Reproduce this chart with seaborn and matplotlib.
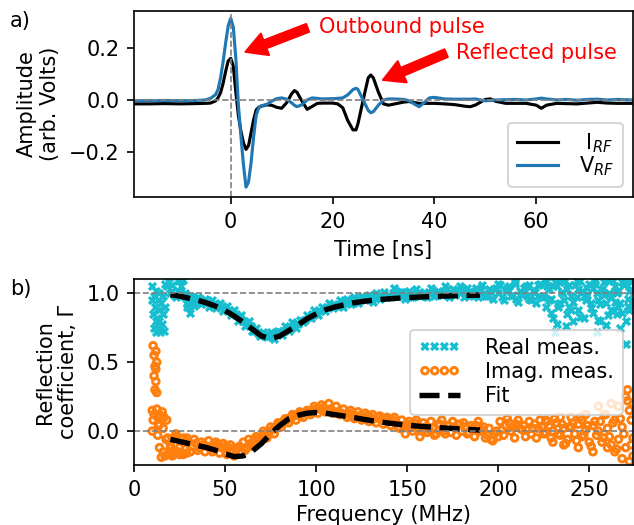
import numpy as np
import matplotlib
matplotlib.use("Agg")
import matplotlib.pyplot as plt
import seaborn as sns

# ---------------- data: panel a (time domain) ----------------
time_ns = [-19, -16, -13, -10, -7, -5, -4, -3, -2.5, -2, -1.5, -1, -0.5, 0, 0.5, 1,
           1.5, 2, 2.5, 3, 3.5, 4, 4.5, 5, 5.5, 6, 7, 8, 9, 10, 11, 12, 12.5, 13, 14,
           15, 16, 17, 18, 20, 21, 22, 23, 24, 24.6, 25, 26, 27, 27.5, 28, 29, 30, 31,
           32, 34, 35, 36, 37, 38, 39, 40, 42, 44, 46, 47, 48, 50, 51, 52, 54, 56, 58,
           60, 61, 62, 64, 66, 68, 70, 72, 74, 76, 79]
i_rf = [-0.015, -0.015, -0.014, -0.015, -0.014, -0.013, -0.012, -0.004, 0.008, 0.028,
        0.064, 0.11, 0.15, 0.16, 0.13, 0.03, -0.06, -0.12, -0.165, -0.19, -0.175,
        -0.125, -0.075, -0.038, -0.028, -0.024, -0.019, -0.02, -0.028, -0.032, -0.01,
        0.025, 0.036, 0.03, -0.005, -0.036, -0.025, -0.013, -0.012, -0.012, -0.015,
        -0.03, -0.08, -0.115, -0.115, -0.09, 0.0, 0.085, 0.096, 0.085, 0.03, -0.015,
        -0.02, -0.016, -0.008, -0.006, -0.01, -0.013, -0.013, -0.013, -0.013, -0.015,
        -0.018, -0.024, -0.026, -0.02, 0.002, 0.004, -0.005, -0.013, -0.013, -0.013,
        -0.02, -0.032, -0.02, -0.013, -0.014, -0.015, -0.012, -0.009, -0.012, -0.013,
        -0.013]
v_rf = [-0.003, -0.003, -0.002, -0.003, -0.002, 0.0, 0.006, 0.02, 0.04, 0.085,
        0.147, 0.22, 0.285, 0.314, 0.28, 0.16, -0.02, -0.14, -0.25, -0.335, -0.315,
        -0.24, -0.14, -0.058, -0.03, -0.022, -0.018, -0.005, 0.005, 0.008, 0.003,
        -0.012, -0.02, -0.026, -0.018, 0.0, 0.008, 0.006, 0.004, 0.005, 0.006, 0.008,
        0.02, 0.04, 0.045, 0.04, 0.0, -0.04, -0.049, -0.045, -0.02, 0.0, 0.004, 0.004,
        0.002, -0.003, -0.015, -0.026, -0.01, 0.008, 0.01, 0.004, 0.003, 0.003, 0.003,
        0.004, -0.003, -0.002, 0.0, 0.001, 0.002, 0.0, 0.004, 0.007, 0.004, 0.0, 0.002,
        -0.001, 0.002, 0.003, 0.0, 0.002, 0.0]

# ---------------- data: panel b (frequency domain) ----------------
freq_even = list(range(10, 276, 2))
real_even = [0.95, 0.80, 0.75, 0.85, 1.05, 1.00, 0.99, 1.02, 1.05, 0.97,
             0.94, 0.97, 0.96, 0.95, 0.94, 0.93, 0.93, 0.92, 0.91, 0.90,
             0.89, 0.88, 0.86, 0.85, 0.82, 0.80, 0.78, 0.76, 0.73, 0.71,
             0.70, 0.70, 0.69, 0.70, 0.71, 0.72, 0.73, 0.74, 0.75, 0.77,
             0.78, 0.80, 0.81, 0.83, 0.85, 0.86, 0.87, 0.89, 0.90, 0.91,
             0.91, 0.92, 0.93, 0.94, 0.93, 0.95, 0.95, 0.96, 0.97, 0.96,
             0.96, 0.97, 0.98, 0.97, 0.98, 0.99, 1.00, 1.02, 1.01, 0.99,
             0.98, 0.97, 0.98, 1.00, 0.99, 0.98, 1.00, 1.02, 0.99, 1.00,
             1.01, 1.03, 1.00, 0.99, 1.02, 1.03, 1.00, 0.98, 1.01, 1.04,
             1.02, 1.00, 0.98, 1.01, 1.03, 1.00, 0.97, 1.02, 1.05, 0.99,
             0.96, 1.02, 1.04, 0.98, 0.95, 1.01, 1.06, 0.97, 0.90, 1.03,
             0.82, 1.05, 0.93, 1.08, 0.85, 0.98, 1.06, 0.88, 1.02, 0.95,
             1.07, 0.86, 1.00, 0.92, 1.08, 0.84, 0.97, 1.05, 0.90, 1.08,
             0.80, 1.02, 0.95]
imag_even = [0.15, 0.45, 0.05, -0.15, 0.08, -0.10, -0.05, -0.15, -0.06, -0.13,
             -0.08, -0.11, -0.09, -0.12, -0.10, -0.11, -0.13, -0.09, -0.10, -0.12,
             -0.11, -0.12, -0.14, -0.13, -0.11, -0.08, -0.12, -0.09, -0.07, -0.05,
             -0.04, -0.02, -0.01, 0.01, 0.02, 0.05, 0.07, 0.08, 0.10, 0.11,
             0.12, 0.12, 0.13, 0.14, 0.15, 0.16, 0.16, 0.17, 0.15, 0.16,
             0.14, 0.14, 0.13, 0.12, 0.13, 0.12, 0.11, 0.11, 0.10, 0.11,
             0.10, 0.09, 0.10, 0.08, 0.09, 0.07, 0.08, 0.06, 0.02, 0.04,
             0.05, 0.03, 0.06, 0.02, 0.00, 0.03, 0.01, 0.02, -0.02, 0.05,
             0.00, 0.04, -0.01, 0.03, 0.05, 0.00, 0.03, -0.01, 0.02, 0.04,
             0.00, 0.03, -0.03, -0.06, -0.02, -0.04, 0.01, 0.04, 0.06, 0.03,
             0.05, 0.02, 0.04, 0.01, -0.02, 0.05, 0.02, 0.03, -0.01, 0.04,
             0.00, 0.06, -0.03, 0.02, -0.06, 0.03, -0.02, 0.05, -0.04, 0.01,
             -0.08, 0.04, -0.03, 0.07, -0.05, 0.02, -0.10, 0.08, -0.06, 0.03,
             -0.12, 0.15, -0.05]

freq_odd = list(range(21, 274, 2))
real_odd = [1.02, 0.97, 1.00, 0.99, 0.92, 0.98, 0.91, 0.97, 0.92, 0.96,
            0.90, 0.95, 0.89, 0.93, 0.87, 0.91, 0.84, 0.88, 0.80, 0.84,
            0.76, 0.80, 0.73, 0.75, 0.69, 0.72, 0.68, 0.72, 0.67, 0.73,
            0.70, 0.76, 0.73, 0.79, 0.75, 0.81, 0.79, 0.84, 0.82, 0.88,
            0.84, 0.90, 0.87, 0.93, 0.89, 0.91, 0.95, 0.90, 0.96, 0.92,
            0.97, 0.93, 0.98, 0.95, 0.99, 0.94, 1.00, 0.96, 1.01, 0.97,
            0.97, 1.04, 0.98, 1.01, 0.96, 1.02, 0.97, 1.03, 0.98, 1.01,
            0.97, 1.04, 0.98, 1.02, 0.99, 1.05, 0.97, 1.03, 1.00, 1.05,
            0.97, 1.04, 0.99, 1.02, 0.97, 1.06, 0.98, 1.03, 0.96, 1.04,
            1.06, 0.95, 1.03, 0.98, 1.07, 0.94, 1.00, 1.05, 0.96, 1.02,
            0.93, 1.07, 0.97,
            1.05, 0.86, 1.08, 0.92, 1.00, 0.76, 1.06, 0.94, 1.09, 0.83,
            0.98, 1.04, 0.89, 1.07, 0.81, 1.02, 0.93, 1.09, 0.87, 1.00,
            0.75, 1.06, 0.91, 1.03]
imag_odd = [-0.16, -0.04, -0.12, -0.17, -0.05, -0.15, -0.06, -0.14, -0.08, -0.15,
            -0.07, -0.15, -0.08, -0.16, -0.09, -0.17, -0.10, -0.18, -0.12, -0.16,
            -0.14, -0.06, -0.11, -0.04, -0.08, 0.00, -0.05, 0.03, -0.02, 0.06,
            0.03, 0.09, 0.06, 0.12, 0.08, 0.14, 0.10, 0.15, 0.12, 0.18,
            0.13, 0.19, 0.14, 0.20, 0.13, 0.18, 0.12, 0.16, 0.10, 0.15,
            0.09, 0.14, 0.08, 0.13, 0.07, 0.12, 0.06, 0.11, 0.05, 0.10,
            0.04, 0.10, 0.03, 0.08, -0.02, 0.07, 0.00, 0.08, -0.04, 0.06,
            -0.01, 0.07, -0.03, 0.05, 0.08, -0.02, 0.04, 0.07, -0.03, 0.05,
            0.06, -0.02, 0.04, -0.04, 0.07, 0.01, -0.05, 0.02, -0.07, 0.00,
            0.07, -0.03, 0.09, 0.00, -0.05, 0.08, 0.01, -0.04, 0.07, 0.02,
            -0.05, 0.08, -0.02,
            0.07, -0.05, 0.09, -0.02, 0.05, -0.09, 0.03, 0.06, -0.07, 0.10,
            -0.03, 0.04, -0.11, 0.07, 0.00, -0.08, 0.12, -0.04, 0.06, -0.13,
            0.09, -0.02, 0.22, -0.10]

# scattered (noisy) extra measurement points at low and high frequency
real_extra_f = [10, 10.5, 11, 11, 11.5, 12, 12, 12.5, 13, 13, 13.5, 14, 14, 14.5, 15,
                15.5, 16, 16.5, 17, 17, 19, 21, 24, 27, 28, 29, 31, 33,
                226, 228, 230, 231, 232, 233, 234, 236, 238, 240, 241, 243, 245, 247,
                249, 251, 253, 254, 255, 256, 257, 259, 261, 262, 263, 265, 266, 267,
                268, 269, 270, 271, 272, 273, 274,
                200, 205, 209, 213, 217, 222, 229, 235, 239, 244, 248, 252, 258, 264]
real_extra_v = [1.05, 0.85, 0.75, 0.98, 0.90, 1.02, 0.72, 0.82, 0.95, 0.74, 0.88, 1.00,
                0.80, 0.72, 0.93, 0.78, 0.98, 0.73, 0.90, 1.07, 1.08, 1.06, 1.09, 1.10,
                1.00, 0.90, 0.86, 0.93,
                1.08, 0.95, 1.05, 0.72, 0.78, 0.90, 1.08, 0.95, 1.03, 0.88, 0.80, 0.97,
                1.09, 0.82, 0.99, 0.93, 1.09, 0.72, 0.95, 0.80, 1.03, 0.77, 1.00, 0.88,
                1.09, 0.85, 1.02, 0.93, 0.86, 1.07, 0.63, 0.96, 0.88, 1.08, 0.92,
                1.07, 1.04, 1.08, 0.99, 1.06, 0.98, 0.96, 1.01, 0.90, 1.03, 0.97, 1.04,
                0.99, 0.94]
imag_extra_f = [10, 10.5, 10.5, 11, 11, 11, 11.5, 11.5, 12, 12, 12.5, 12.5, 12.5, 13, 13,
                13.5, 14, 14, 15, 15.5, 16, 16.5, 17, 17.5, 18.5, 19, 20, 21, 23, 25,
                27, 29,
                226, 230, 234, 236, 240, 244, 246, 248, 252, 255, 258, 260, 262, 264,
                266, 268, 270, 271, 272, 273, 274, 274]
imag_extra_v = [0.00, 0.62, 0.08, 0.55, 0.40, 0.12, 0.30, 0.47, 0.58, 0.36, 0.50, 0.28,
                0.16, 0.10, -0.03, 0.04, 0.12, -0.12, -0.19, 0.14, 0.02, 0.10, -0.18,
                -0.06, -0.05, -0.17, -0.12, -0.18, -0.02, -0.17, -0.05, -0.16,
                0.08, -0.08, 0.10, -0.10, 0.10, -0.12, 0.08, 0.12, -0.15, 0.18, 0.12,
                -0.12, 0.20, -0.15, 0.18, -0.20, 0.25, 0.30, -0.22, 0.08, 0.20, -0.18]

fit_freq = list(range(20, 191, 5))
fit_real = [0.99, 0.98, 0.965, 0.95, 0.93, 0.905, 0.875, 0.835, 0.79, 0.74, 0.69, 0.67,
            0.69, 0.73, 0.77, 0.815, 0.85, 0.88, 0.90, 0.915, 0.93, 0.94, 0.948, 0.955,
            0.96, 0.965, 0.969, 0.972, 0.975, 0.978, 0.98, 0.982, 0.984, 0.986, 0.987]
fit_imag = [-0.06, -0.075, -0.09, -0.105, -0.12, -0.14, -0.165, -0.185, -0.18, -0.145,
            -0.09, -0.02, 0.04, 0.09, 0.115, 0.13, 0.135, 0.13, 0.12, 0.11, 0.10, 0.088,
            0.077, 0.067, 0.058, 0.05, 0.043, 0.037, 0.032, 0.028, 0.023, 0.019, 0.015,
            0.011, 0.008]

assert len(time_ns) == len(i_rf) == len(v_rf)
assert len(freq_even) == len(real_even) == len(imag_even)
assert len(freq_odd) == len(real_odd) == len(imag_odd)
assert len(real_extra_f) == len(real_extra_v)
assert len(imag_extra_f) == len(imag_extra_v)
assert len(fit_freq) == len(fit_real) == len(fit_imag)

# ---------------- figure ----------------
W, H, DPI = 634, 525, 150
fig = plt.figure(figsize=(W / DPI, H / DPI), dpi=DPI)
plt.rcParams['font.family'] = ['DejaVu Sans']

def px_axes(left, top, right, bottom):
    return fig.add_axes([left / W, 1 - bottom / H, (right - left) / W, (bottom - top) / H])

ax1 = px_axes(134, 11, 633, 197)
ax2 = px_axes(134, 279, 633, 465)

# panel a
sns.lineplot(x=time_ns, y=i_rf, ax=ax1, color='black', lw=1.5, estimator=None,
             sort=False, label=' I$_{RF}$')
sns.lineplot(x=time_ns, y=v_rf, ax=ax1, color='#1f77b4', lw=1.5, estimator=None,
             sort=False, label='V$_{RF}$')
ax1.axhline(0, color='gray', ls='--', lw=0.8)
ax1.axvline(0, color='gray', ls='--', lw=0.8)
ax1.set_xlim(-19, 79)
ax1.set_ylim(-0.373, 0.342)
ax1.set_xticks([0, 20, 40, 60])
ax1.set_yticks([-0.2, 0.0, 0.2])
ax1.set_xlabel('Time [ns]')
ax1.set_ylabel('Amplitude\n(arb. Volts)')
ax1.legend(loc='lower right', labelspacing=0.0, handletextpad=1.0)

arrow_kw = dict(color='red', width=4, headwidth=11, headlength=10, shrink=0.0)
ax1.annotate('', xy=(2.9, 0.185), xytext=(15.1, 0.277), arrowprops=arrow_kw)
ax1.annotate('', xy=(29.9, 0.077), xytext=(42.3, 0.18), arrowprops=arrow_kw)
ax1.text(17.3, 0.256, 'Outbound pulse', color='red', ha='left', va='baseline')
ax1.text(44.3, 0.157, 'Reflected pulse', color='red', ha='left', va='baseline')

# panel b
real_f_all = freq_even + freq_odd + real_extra_f
real_v_all = real_even + real_odd + real_extra_v
imag_f_all = freq_even + freq_odd + imag_extra_f
imag_v_all = imag_even + imag_odd + imag_extra_v
sns.scatterplot(x=real_f_all, y=real_v_all, ax=ax2, marker='x', color='#17becf',
                s=11, linewidth=1.6, label='Real meas.')
sns.scatterplot(x=imag_f_all, y=imag_v_all, ax=ax2, marker='o', facecolor='none',
                edgecolor='#ff7f0e', s=10, linewidth=1.4, label='Imag. meas.')
sns.lineplot(x=fit_freq, y=fit_real, ax=ax2, color='black', lw=2.6, ls='--',
             estimator=None, sort=False, label='Fit')
sns.lineplot(x=fit_freq, y=fit_imag, ax=ax2, color='black', lw=2.6, ls='--',
             estimator=None, sort=False)
ax2.axhline(1, color='gray', ls='--', lw=0.8)
ax2.axhline(0, color='gray', ls='--', lw=0.8)
ax2.set_xlim(0, 274)
ax2.set_ylim(-0.246, 1.104)
ax2.set_xticks([0, 50, 100, 150, 200, 250])
ax2.set_yticks([0.0, 0.5, 1.0])
ax2.set_xlabel('Frequency (MHz)', labelpad=2.5)
ax2.set_ylabel('Reflection\ncoefficient, Γ')
ax2.legend(loc='center right', scatterpoints=4, scatteryoffsets=[0.5],
           labelspacing=0.2, handletextpad=1.2)

fig.text(10 / W, 1 - 26.7 / H, 'a)', va='baseline', ha='left')
fig.text(10 / W, 1 - 295 / H, 'b)', va='baseline', ha='left')

fig.savefig('out.png', dpi=DPI)
